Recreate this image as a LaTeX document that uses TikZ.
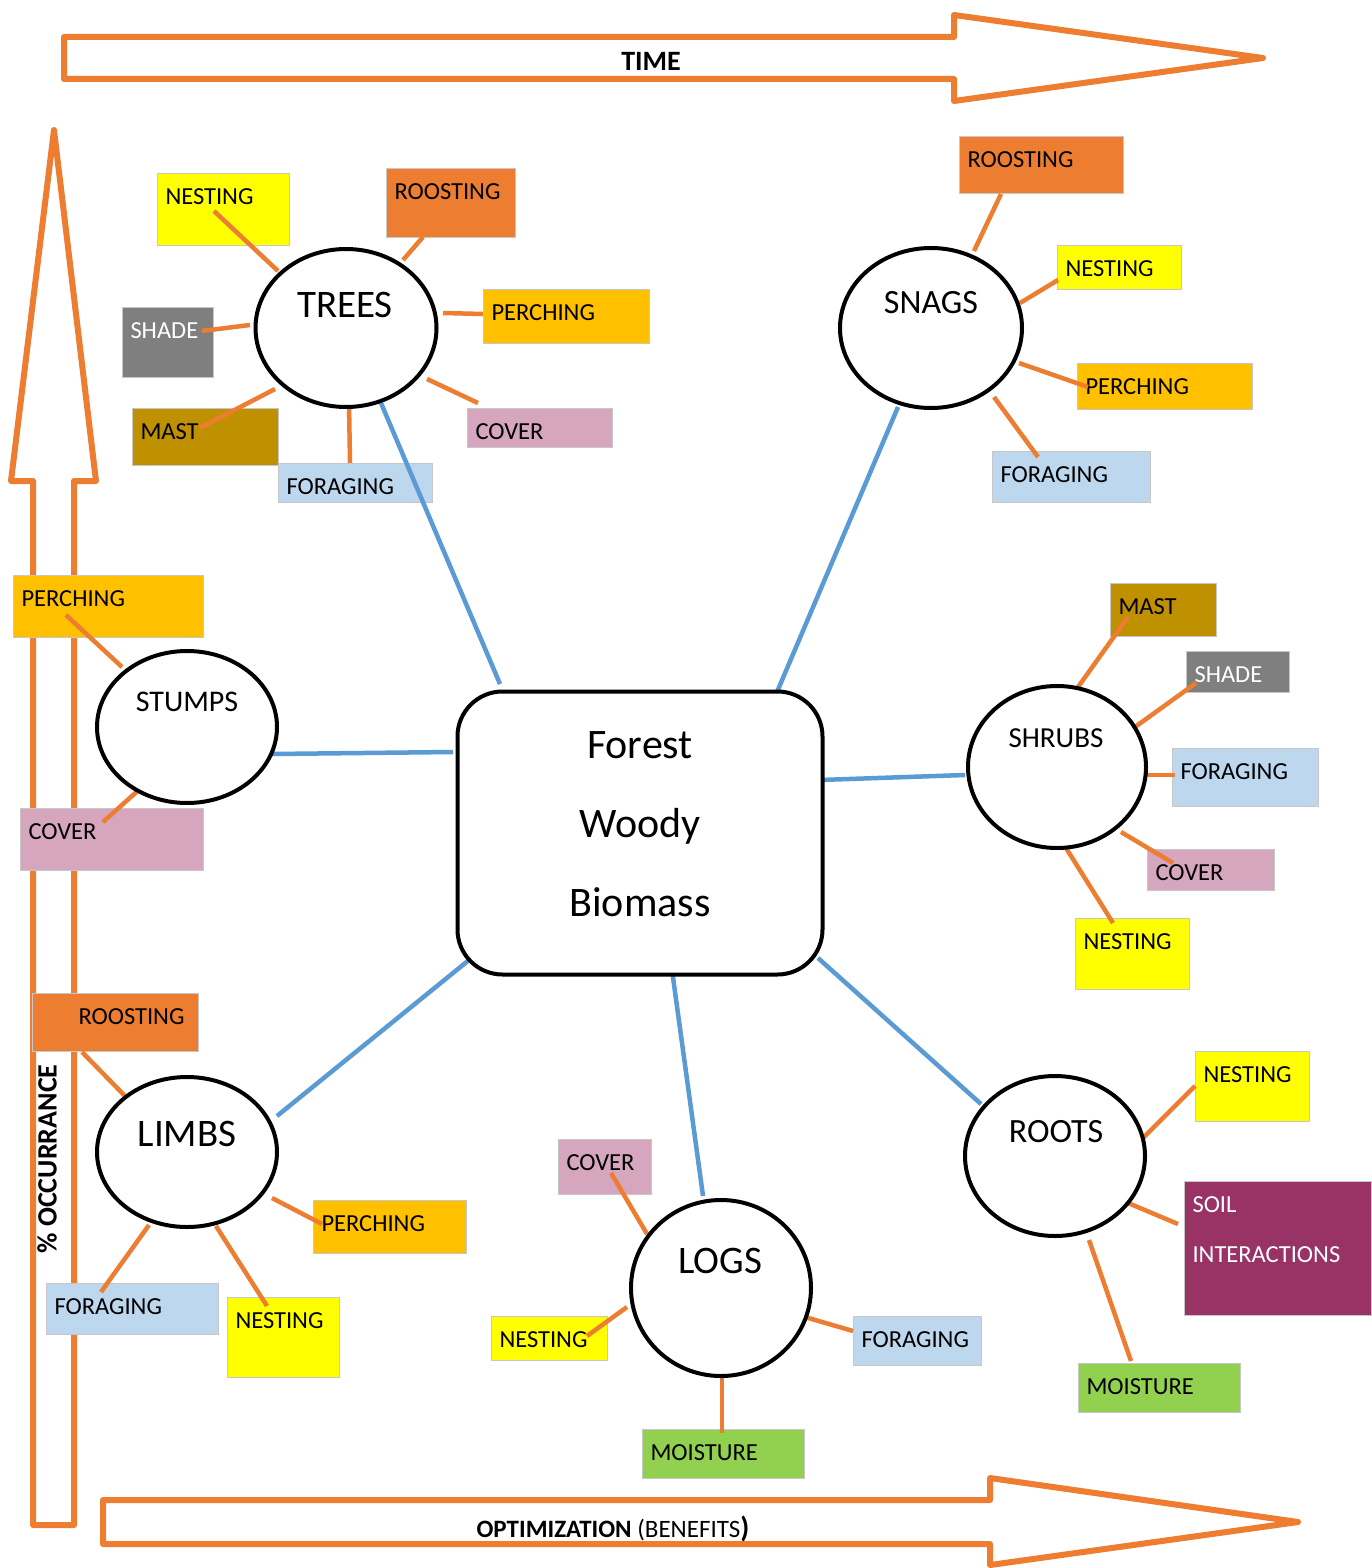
\documentclass[tikz,border=0pt]{standalone}
\usepackage{fontspec}
\setmainfont{Carlito}
\usetikzlibrary{shapes.geometric,calc}
\pgfdeclarelayer{arrowlayer}
\pgfdeclarelayer{boxlayer}
\pgfdeclarelayer{linelayer}
\pgfsetlayers{arrowlayer,boxlayer,linelayer,main}
\definecolor{cOr}{HTML}{ED7D31}
\definecolor{cYel}{HTML}{FFFF00}
\definecolor{cGold}{HTML}{FFC000}
\definecolor{cGray}{HTML}{7F7F7F}
\definecolor{cMast}{HTML}{BF9000}
\definecolor{cFor}{HTML}{BDD7EE}
\definecolor{cCov}{HTML}{D5A6BD}
\definecolor{cMoi}{HTML}{92D050}
\definecolor{cSoil}{HTML}{993366}
\definecolor{cBlue}{HTML}{5B9BD5}
\newcommand\fs[1]{\fontsize{#1pt}{#1pt}\selectfont}
\begin{document}
\begin{tikzpicture}[x=1pt,y=-1pt,
  circ/.style={ellipse, draw, line width=4pt, fill=white, inner sep=0pt},
  ctext/.style={anchor=base, inner sep=0pt},
  lbox/.style={anchor=north west, draw=black!22, line width=1pt, inner xsep=8pt, inner ysep=0pt, align=left, font=\fs{24.5}, text height=31pt},
  oline/.style={cOr, line width=4.5pt},
  bline/.style={cBlue, line width=4.5pt},
  bigarrow/.style={draw=cOr, line width=6pt, fill=white, line join=round}]
\useasboundingbox (0,0) rectangle (1371,1568);

% ---------- central node and circles ----------
\node[draw, line width=4pt, rounded corners=45pt, fill=white, minimum width=365pt, minimum height=283pt, inner sep=0pt] (fwb) at (640,833) {};
\node[ctext, font=\fs{42}] (fwbA) at (640,758) {Forest};
\node[ctext, font=\fs{42}] (fwbB) at (640,837) {Woody};
\node[ctext, font=\fs{42}] (fwbC) at (640,916) {Biomass};

\node[circ, minimum width=181pt, minimum height=158pt] (trees) at (346,328) {};
\node[circ, minimum width=182pt, minimum height=160pt] (snags) at (931,328) {};
\node[circ, minimum width=180pt, minimum height=152pt] (stumps) at (187,727) {};
\node[circ, minimum width=178pt, minimum height=162pt] (shrubs) at (1057,767) {};
\node[circ, minimum width=180pt, minimum height=150pt] (limbs) at (187,1152) {};
\node[circ, minimum width=180pt, minimum height=176pt] (logs) at (721,1288) {};
\node[circ, minimum width=180pt, minimum height=160pt] (roots) at (1055,1156) {};

\node[ctext, font=\fs{39}] (treesT) at (345,317) {TREES};
\node[ctext, font=\fs{34}] (snagsT) at (931,313) {SNAGS};
\node[ctext, font=\fs{30}] (stumpsT) at (187,711) {STUMPS};
\node[ctext, font=\fs{29}] (shrubsT) at (1056,747) {SHRUBS};
\node[ctext, font=\fs{39}] (limbsT) at (187,1146) {LIMBS};
\node[ctext, font=\fs{39}] (logsT) at (720,1273) {LOGS};
\node[ctext, font=\fs{34}] (rootsT) at (1056,1142) {ROOTS};

% ---------- label boxes ----------
\begin{pgfonlayer}{boxlayer}
\node[lbox, fill=cYel, text width=116pt, text depth=41pt] (tn) at (157,173) {NESTING};
\node[lbox, fill=cOr, text width=113pt, text depth=38pt] (tr) at (386,168) {ROOSTING};
\node[lbox, fill=cGold, text width=150pt, text depth=23pt] (tp) at (483,289) {PERCHING};
\node[lbox, fill=cGray, text=white, text width=75pt, text depth=39pt] (ts) at (122,307) {SHADE};
\node[lbox, fill=cMast, text width=130pt, text depth=26pt] (tm) at (132,408) {MAST};
\node[lbox, fill=cFor, text width=138pt, text depth=8pt] (tf) at (278,463) {FORAGING};
\node[lbox, fill=cCov, text width=129pt, text depth=8pt] (tc) at (467,408) {COVER};

\node[lbox, fill=cOr, text width=148pt, text depth=26pt] (sr) at (959,136) {ROOSTING};
\node[lbox, fill=cYel, text width=108pt, text depth=13pt] (sn) at (1057,245) {NESTING};
\node[lbox, fill=cGold, text width=159pt, text depth=15pt] (sp) at (1077,363) {PERCHING};
\node[lbox, fill=cFor, text width=142pt, text depth=20pt] (sf) at (992,451) {FORAGING};

\node[lbox, fill=cGold, text width=174pt, text depth=31pt] (stp) at (13,575) {PERCHING};
\node[lbox, fill=cCov, text width=167pt, text depth=31pt] (stc) at (20,808) {COVER};

\node[lbox, fill=cMast, text width=90pt, text depth=22pt] (hm) at (1110,583) {MAST};
\node[lbox, fill=cGray, text=white, text width=87pt, text depth=10pt] (hs) at (1186,651) {SHADE};
\node[lbox, fill=cFor, text width=130pt, text depth=27pt] (hf) at (1172,748) {FORAGING};
\node[lbox, fill=cCov, text width=111pt, text depth=10pt] (hc) at (1147,849) {COVER};
\node[lbox, fill=cYel, text width=98pt, text depth=40pt] (hn) at (1075,918) {NESTING};

\node[lbox, fill=cOr, text width=150pt, text depth=27pt] (lr) at (32,993) {\hspace*{38pt}ROOSTING};
\node[lbox, fill=cGold, text width=137pt, text depth=22pt] (lp) at (313,1200) {PERCHING};
\node[lbox, fill=cFor, text width=156pt, text depth=20pt] (lf) at (46,1283) {FORAGING};
\node[lbox, fill=cYel, text width=96pt, text depth=49pt] (ln) at (227,1297) {NESTING};

\node[lbox, fill=cCov, text width=77pt, text depth=24pt] (gc) at (558,1139) {COVER};
\node[lbox, fill=cYel, text width=100pt, text depth=13pt] (gn) at (491,1316) {NESTING};
\node[lbox, fill=cFor, text width=112pt, text depth=18pt] (gf) at (853,1316) {FORAGING};
\node[lbox, fill=cMoi, text width=146pt, text depth=18pt] (gm) at (642,1429) {MOISTURE};

\node[lbox, fill=cYel, text width=98pt, text depth=39pt] (rn) at (1195,1051) {NESTING};
\node[lbox, fill=cSoil, text=white, text width=171pt, text depth=103pt, font=\fontsize{24.5pt}{50pt}\selectfont] (rs) at (1184,1181) {SOIL\\INTERACTIONS};
\node[lbox, fill=cMoi, text width=146pt, text depth=18pt] (rm) at (1078,1363) {MOISTURE};
\end{pgfonlayer}

% ---------- connectors ----------
\begin{pgfonlayer}{linelayer}
\draw[oline] ($(trees)+(-68,-57)$) -- ($(tn.north west)+(57,38)$);
\draw[oline] ($(trees)+(57,-68)$) -- ($(tr.north west)+(37,69)$);
\draw[oline] ($(trees)+(97,-15)$) -- ($(tp.north west)+(0,25)$);
\draw[oline] ($(trees)+(-96,-3)$) -- ($(ts.north west)+(80,24)$);
\draw[oline] ($(trees)+(-71,61)$) -- ($(tm.north west)+(68,20)$);
\draw[oline] ($(trees)+(3,75)$) -- ($(tf.north west)+(72,0)$);
\draw[oline] ($(trees)+(81,51)$) -- ($(tc.north west)+(11,-5)$);

\draw[oline] ($(snags)+(43,-77)$) -- ($(sr.north west)+(42,58)$);
\draw[oline] ($(snags)+(89,-25)$) -- ($(sn.north west)+(1,35)$);
\draw[oline] ($(snags)+(88,35)$) -- ($(sp.north west)+(11,24)$);
\draw[oline] ($(snags)+(63,69)$) -- ($(sf.north west)+(46,6)$);

\draw[oline] ($(stumps)+(-65,-60)$) -- ($(stp.north west)+(53,40)$);
\draw[oline] ($(stumps)+(-45,60)$) -- ($(stc.north west)+(83,14)$);

\draw[oline] ($(shrubs)+(21,-80)$) -- ($(hm.north west)+(18,34)$);
\draw[oline] ($(shrubs)+(78,-40)$) -- ($(hs.north west)+(10,32)$);
\draw[oline] ($(shrubs)+(90,8)$) -- ($(hf.north west)+(3,27)$);
\draw[oline] ($(shrubs)+(64,65)$) -- ($(hc.north west)+(26,14)$);
\draw[oline] ($(shrubs)+(9,81)$) -- ($(hn.north west)+(38,5)$);

\draw[oline] ($(limbs)+(-62,-56)$) -- ($(lr.north west)+(50,59)$);
\draw[oline] ($(limbs)+(85,46)$) -- ($(lp.north west)+(9,24)$);
\draw[oline] ($(limbs)+(-38,73)$) -- ($(lf.north west)+(55,9)$);
\draw[oline] ($(limbs)+(29,74)$) -- ($(ln.north west)+(40,9)$);

\draw[oline] ($(logs)+(-74,-54)$) -- ($(gc.north west)+(53,34)$);
\draw[oline] ($(logs)+(-94,19)$) -- ($(gn.north west)+(96,20)$);
\draw[oline] ($(logs)+(84,29)$) -- ($(gf.north west)+(0,15)$);
\draw[oline] ($(logs)+(1,90)$) -- ($(gm.north west)+(80,4)$);

\draw[oline] ($(roots)+(87,-17)$) -- ($(rn.north west)+(0,35)$);
\draw[oline] ($(roots)+(73,47)$) -- ($(rs.north west)+(-6,43)$);
\draw[oline] ($(roots)+(34,84)$) -- ($(rm.north west)+(53,-2)$);

\draw[bline] ($(trees)+(35,75)$) -- ($(fwb)+(-140,-149)$);
\draw[bline] ($(snags)+(-33,79)$) -- ($(fwb)+(137,-141)$);
\draw[bline] ($(stumps)+(85,27)$) -- ($(fwb)+(-187,-81)$);
\draw[bline] ($(shrubs)+(-92,8)$) -- ($(fwb)+(180,-53)$);
\draw[bline] ($(limbs)+(90,-36)$) -- ($(fwb)+(-171,127)$);
\draw[bline] ($(logs)+(-18,-92)$) -- ($(fwb)+(32,137)$);
\draw[bline] ($(roots)+(-74,-52)$) -- ($(fwb)+(178,125)$);
\end{pgfonlayer}

% ---------- axis arrows ----------
\begin{pgfonlayer}{arrowlayer}
\fill[white] (0,0) rectangle (1371,1568);
\draw[bigarrow] (64,37) -- (954,37) -- (954,15) -- (1263,58) -- (954,101) -- (954,79) -- (64,79) -- cycle;
\draw[bigarrow] (103,1500) -- (990,1500) -- (990,1478) -- (1298,1522) -- (990,1565) -- (990,1544) -- (103,1544) -- cycle;
\draw[bigarrow] (33,1525) -- (33,481) -- (11,481) -- (54,130) -- (96,481) -- (74,481) -- (74,1525) -- cycle;
\end{pgfonlayer}
\node[anchor=base, inner sep=0pt, font=\bfseries\fs{28}] (time) at (651,71) {TIME};
\node[anchor=base, inner sep=0pt, font=\fs{25}] (opt) at (613,1537) {\textbf{OPTIMIZATION} (BENEFITS{\bfseries\fs{29})}};
\node[rotate=90, inner sep=0pt, font=\bfseries\fs{28}] (occ) at (47,1159) {\% OCCURRANCE};
\end{tikzpicture}
\end{document}
